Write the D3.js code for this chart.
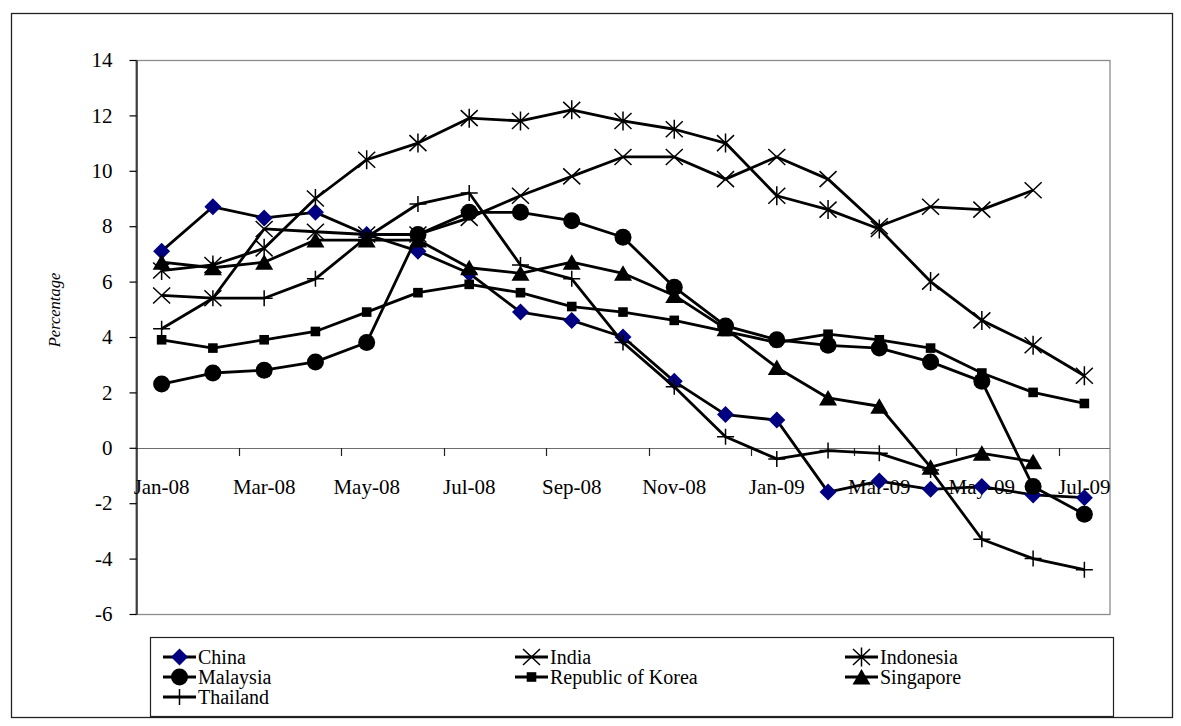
<!DOCTYPE html>
<html>
<head>
<meta charset="utf-8">
<script src="https://cdn.jsdelivr.net/npm/d3@7"></script>
<style>
  html, body { margin: 0; padding: 0; background: #fff; }
  svg { display: block; font-family: "Liberation Serif", "DejaVu Serif", serif; }
</style>
</head>
<body>
<svg id="chart" width="1181" height="726"></svg>
<script>
// Monthly categories, Jan 2008 – Jul 2009
const months = ["Jan-08","Feb-08","Mar-08","Apr-08","May-08","Jun-08","Jul-08","Aug-08","Sep-08","Oct-08","Nov-08","Dec-08",
                "Jan-09","Feb-09","Mar-09","Apr-09","May-09","Jun-09","Jul-09"];
const tickLabels = ["Jan-08","Mar-08","May-08","Jul-08","Sep-08","Nov-08","Jan-09","Mar-09","May-09","Jul-09"];
const yTicks = [-6, -4, -2, 0, 2, 4, 6, 8, 10, 12, 14];

// Year-on-year inflation rates (%)
const china     = [7.1, 8.7, 8.3, 8.5, 7.7, 7.1, 6.3, 4.9, 4.6, 4.0, 2.4, 1.2, 1.0, -1.6, -1.2, -1.5, -1.4, -1.7, -1.8];
const india     = [5.5, 5.4, 7.9, 7.8, 7.7, 7.7, 8.3, 9.1, 9.8, 10.5, 10.5, 9.7, 10.5, 9.7, 8.0, 8.7, 8.6, 9.3, null];
const indonesia = [6.4, 6.6, 7.2, 9.0, 10.4, 11.0, 11.9, 11.8, 12.2, 11.8, 11.5, 11.0, 9.1, 8.6, 7.9, 6.0, 4.6, 3.7, 2.6];
const malaysia  = [2.3, 2.7, 2.8, 3.1, 3.8, 7.7, 8.5, 8.5, 8.2, 7.6, 5.8, 4.4, 3.9, 3.7, 3.6, 3.1, 2.4, -1.4, -2.4];
const korea     = [3.9, 3.6, 3.9, 4.2, 4.9, 5.6, 5.9, 5.6, 5.1, 4.9, 4.6, 4.2, 3.8, 4.1, 3.9, 3.6, 2.7, 2.0, 1.6];
const singapore = [6.7, 6.5, 6.7, 7.5, 7.5, 7.5, 6.5, 6.3, 6.7, 6.3, 5.5, 4.3, 2.9, 1.8, 1.5, -0.7, -0.2, -0.5, null];
const thailand  = [4.3, 5.4, 5.4, 6.1, 7.6, 8.8, 9.2, 6.6, 6.1, 3.8, 2.2, 0.4, -0.4, -0.1, -0.2, -0.8, -3.3, -4.0, -4.4];

const seriesNames = ["China","India","Indonesia","Malaysia","Republic of Korea","Singapore","Thailand"];
const seriesValues = [china, india, indonesia, malaysia, korea, singapore, thailand];
const seriesMarkers = ["diamond","x","asterisk","circle","square","triangle","plus"];
const seriesColors = ["#000080","#000","#000","#000","#000","#000","#000"];

const svg = d3.select("#chart");

// Plot frame
const plot = { left: 136, right: 1110, top: 60, bottom: 614 };

const x = d3.scaleBand().domain(months).range([plot.left, plot.right]).padding(0);
const xc = m => x(m) + x.bandwidth() / 2;
const y = d3.scaleLinear().domain([-6, 14]).range([plot.bottom, plot.top]);

// Outer chart border
svg.append("rect")
  .attr("x", 11.5).attr("y", 13.5).attr("width", 1161).attr("height", 704)
  .attr("fill", "none").attr("stroke", "#222").attr("stroke-width", 1.3);

// Plot area border
svg.append("rect")
  .attr("x", plot.left).attr("y", plot.top + 0.5)
  .attr("width", plot.right - plot.left).attr("height", plot.bottom - plot.top)
  .attr("fill", "none").attr("stroke", "#8c8c8c").attr("stroke-width", 1.3);

// Horizontal category axis crossing at zero
svg.append("line")
  .attr("x1", plot.left).attr("x2", plot.right)
  .attr("y1", Math.round(y(0)) + 0.5).attr("y2", Math.round(y(0)) + 0.5)
  .attr("stroke", "#6e6e6e").attr("stroke-width", 1.2);

// Tick marks between every second category
const tickBoundaries = months.filter((m, i) => i > 0 && i % 2 === 0);
svg.append("g").selectAll("line").data(tickBoundaries).join("line")
  .attr("x1", d => Math.round(x(d)) + 0.5).attr("x2", d => Math.round(x(d)) + 0.5)
  .attr("y1", Math.round(y(0))).attr("y2", Math.round(y(0)) + 8)
  .attr("stroke", "#222").attr("stroke-width", 1.2);

// Category labels
const xAxis = d3.axisBottom(x).tickValues(tickLabels).tickSize(0).tickPadding(31);
const gx = svg.append("g").attr("transform", `translate(0,${y(0)})`).call(xAxis);
gx.select(".domain").remove();
gx.selectAll("text").attr("font-size", 21).attr("fill", "#000")
  .attr("font-family", "Liberation Serif, serif");

// Value axis
const yAxis = d3.axisLeft(y).tickValues(yTicks).tickSize(7).tickPadding(17).tickSizeOuter(0)
  .tickFormat(d => String(d));
const gy = svg.append("g").attr("transform", `translate(${plot.left + 0.5},0)`).call(yAxis);
gy.select(".domain").attr("stroke", "#000").attr("stroke-width", 1.3);
gy.selectAll(".tick line").attr("stroke", "#000").attr("stroke-width", 1.2);
gy.selectAll("text").attr("font-size", 21).attr("fill", "#000")
  .attr("font-family", "Liberation Serif, serif");

// Axis title
svg.append("text")
  .attr("transform", "translate(60,310) rotate(-90)")
  .attr("text-anchor", "middle")
  .attr("font-style", "italic")
  .attr("font-size", 16.5)
  .attr("fill", "#000")
  .text("Percentage");

// Marker drawing
function drawMarker(g, type, color) {
  const s = 1.5;
  switch (type) {
    case "diamond":
      g.append("path").attr("d", "M0,-8.5L8.5,0L0,8.5L-8.5,0Z").attr("fill", color);
      break;
    case "circle":
      g.append("circle").attr("r", 8.5).attr("fill", color);
      break;
    case "square":
      g.append("rect").attr("x", -4.8).attr("y", -4.8).attr("width", 9.6).attr("height", 9.6).attr("fill", color);
      break;
    case "triangle":
      g.append("path").attr("d", "M0,-8L9,7.5L-9,7.5Z").attr("fill", color);
      break;
    case "x":
      g.append("path").attr("d", "M-8.5,-8L8.5,8M-8.5,8L8.5,-8")
        .attr("stroke", color).attr("stroke-width", s).attr("fill", "none");
      break;
    case "asterisk":
      g.append("path").attr("d", "M-8.5,-8L8.5,8M-8.5,8L8.5,-8M0,-9.5L0,9.5")
        .attr("stroke", color).attr("stroke-width", s).attr("fill", "none");
      break;
    case "plus":
      g.append("path").attr("d", "M-8.5,0L8.5,0M0,-8L0,8")
        .attr("stroke", color).attr("stroke-width", s).attr("fill", "none");
      break;
  }
}

const line = d3.line()
  .defined(d => d.v !== null)
  .x(d => xc(d.m))
  .y(d => y(d.v));

// Series: line then markers, drawn in order
seriesNames.forEach((name, i) => {
  const pts = months.map((m, j) => ({ m, v: seriesValues[i][j] }));
  const g = svg.append("g").attr("class", "series");
  g.append("path").datum(pts)
    .attr("d", line)
    .attr("fill", "none").attr("stroke", "#000").attr("stroke-width", 2.8)
    .attr("stroke-linejoin", "round");
  pts.filter(d => d.v !== null).forEach(d => {
    const mg = g.append("g").attr("transform", `translate(${xc(d.m)},${y(d.v)})`);
    drawMarker(mg, seriesMarkers[i], seriesColors[i]);
  });
});

// Legend
const legend = svg.append("g");
legend.append("rect")
  .attr("x", 150.5).attr("y", 637.5).attr("width", 963).attr("height", 79)
  .attr("fill", "#fff").attr("stroke", "#222").attr("stroke-width", 1.2);
const colX = [163, 515, 845];
const rowY = [657, 677, 697];
seriesNames.forEach((name, i) => {
  const lx = colX[i % 3], ly = rowY[Math.floor(i / 3)];
  const g = legend.append("g");
  g.append("line").attr("x1", lx).attr("x2", lx + 33).attr("y1", ly).attr("y2", ly)
    .attr("stroke", "#000").attr("stroke-width", 2.8);
  const mg = g.append("g").attr("transform", `translate(${lx + 16.5},${ly})`);
  drawMarker(mg, seriesMarkers[i], seriesColors[i]);
  g.append("text").attr("x", lx + 35).attr("y", ly).attr("dy", "0.35em")
    .attr("font-size", 20).attr("fill", "#000").text(name);
});
</script>
</body>
</html>
